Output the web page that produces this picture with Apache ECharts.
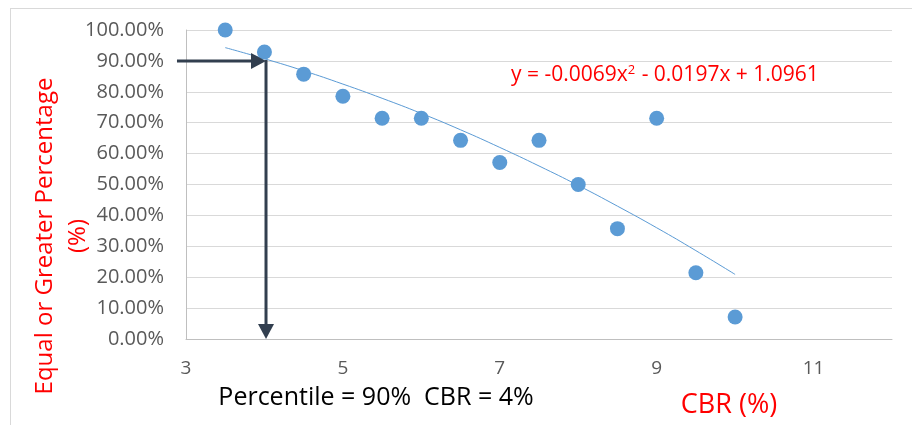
<!DOCTYPE html>
<html>
<head>
<meta charset="utf-8">
<script src="https://cdn.jsdelivr.net/npm/echarts@6/dist/echarts.min.js"></script>
<style>html,body{margin:0;padding:0;background:#fff}#c{width:912px;height:425px}</style>
</head>
<body>
<div id="c"></div>
<script>
// CBR values (%) and equal-or-greater percentages
const cbr = [3.5, 4, 4.5, 5, 5.5, 6, 6.5, 7, 7.5, 8, 8.5, 9, 9.5, 10];
const pct = [1.0, 0.9286, 0.8571, 0.7857, 0.7143, 0.7143, 0.6429, 0.5714, 0.6429, 0.50, 0.3571, 0.7143, 0.2143, 0.0714];
// polynomial trendline as drawn
const trendX = [3.5, 4, 4.5, 5, 5.5, 6, 6.5, 7, 7.5, 8, 8.5, 9, 9.5, 10];
const trendY = [0.943, 0.907, 0.868, 0.825, 0.779, 0.730, 0.677, 0.620, 0.560, 0.497, 0.430, 0.360, 0.286, 0.209];
// percentile reading guide
const guideStartX = 2.885;
const guideX = 4.02;
const guideY = 0.9;
const xTickLabels = [3, 5, 7, 9, 11];

const chart = echarts.init(document.getElementById('c'), null, {renderer: 'canvas'});
const font = '"Open Sans", "Noto Sans", sans-serif';
const guideColor = '#323f4f';

chart.setOption({
  animation: false,
  backgroundColor: '#fff',
  grid: {left: 186, right: 20, top: 30, bottom: 86, containLabel: false},
  xAxis: {
    type: 'value', min: 3, max: 12, interval: 1,
    axisLine: {show: true, lineStyle: {color: '#bfbfbf', width: 1}},
    axisTick: {show: false},
    splitLine: {show: false},
    axisLabel: {
      color: '#595959', fontSize: 19, fontFamily: font, margin: 20,
      formatter: v => xTickLabels.indexOf(v) >= 0 ? String(v) : ''
    }
  },
  yAxis: {
    type: 'value', min: 0, max: 1, interval: 0.1,
    axisLine: {show: true, lineStyle: {color: '#bfbfbf', width: 1}},
    axisTick: {show: false},
    splitLine: {show: true, lineStyle: {color: '#d9d9d9', width: 1}},
    axisLabel: {
      color: '#595959', fontSize: 20, fontFamily: font, margin: 22,
      formatter: v => (v * 100).toFixed(2) + '%'
    }
  },
  series: [
    {
      type: 'line',
      data: trendX.map((x, i) => [x, trendY[i]]),
      showSymbol: false, smooth: true,
      lineStyle: {color: '#5b9bd5', width: 1},
      z: 2
    },
    {
      type: 'scatter',
      data: cbr.map((x, i) => [x, pct[i]]),
      symbolSize: 15,
      itemStyle: {color: '#5b9bd5', opacity: 1},
      z: 3
    }
  ]
});

// guide arrows positioned through the chart's own scales
const pStart = chart.convertToPixel({gridIndex: 0}, [guideStartX, guideY]);
const pCorner = chart.convertToPixel({gridIndex: 0}, [guideX, guideY]);
const pEnd = chart.convertToPixel({gridIndex: 0}, [guideX, 0]);
const ah = 15, aw = 8;

chart.setOption({
  graphic: [
    {type: 'line', shape: {x1: 10, y1: 8.5, x2: 912, y2: 8.5}, style: {stroke: '#d9d9d9', lineWidth: 1}, silent: true},
    {type: 'line', shape: {x1: 10.5, y1: 8, x2: 10.5, y2: 425}, style: {stroke: '#d9d9d9', lineWidth: 1}, silent: true},
    {type: 'line', z: 10, shape: {x1: pStart[0], y1: pStart[1], x2: pCorner[0] - ah, y2: pCorner[1]}, style: {stroke: guideColor, lineWidth: 3}},
    {type: 'polygon', z: 10, shape: {points: [[pCorner[0], pCorner[1]], [pCorner[0] - ah, pCorner[1] - aw], [pCorner[0] - ah, pCorner[1] + aw]]}, style: {fill: guideColor}},
    {type: 'line', z: 10, shape: {x1: pCorner[0], y1: pCorner[1] - 1, x2: pEnd[0], y2: pEnd[1] - ah}, style: {stroke: guideColor, lineWidth: 3}},
    {type: 'polygon', z: 10, shape: {points: [[pEnd[0], pEnd[1]], [pEnd[0] - aw, pEnd[1] - ah], [pEnd[0] + aw, pEnd[1] - ah]]}, style: {fill: guideColor}},
    {
      type: 'text', left: 511, top: 64,
      style: {
        text: '{a|y = -0.0069x}{s|2}{a| - 0.0197x + 1.0961}',
        rich: {
          a: {fill: '#ff0000', fontSize: 21, fontFamily: font},
          s: {fill: '#ff0000', fontSize: 13, fontFamily: font, verticalAlign: 'top', padding: [0, 1, 9, 0]}
        }
      }
    },
    {
      type: 'text', x: 62, y: 236, rotation: Math.PI / 2,
      style: {
        text: 'Equal or Greater Percentage\n(%)', align: 'center', verticalAlign: 'middle',
        fill: '#ff0000', fontSize: 24, fontFamily: font, lineHeight: 33
      }
    },
    {
      type: 'text', x: 376, y: 398,
      style: {text: 'Percentile = 90%  CBR = 4%', align: 'center', verticalAlign: 'middle', fill: '#000', fontSize: 25, fontFamily: font}
    },
    {
      type: 'text', x: 729, y: 405,
      style: {text: 'CBR (%)', align: 'center', verticalAlign: 'middle', fill: '#ff0000', fontSize: 27, fontFamily: font}
    }
  ]
});
</script>
</body>
</html>
